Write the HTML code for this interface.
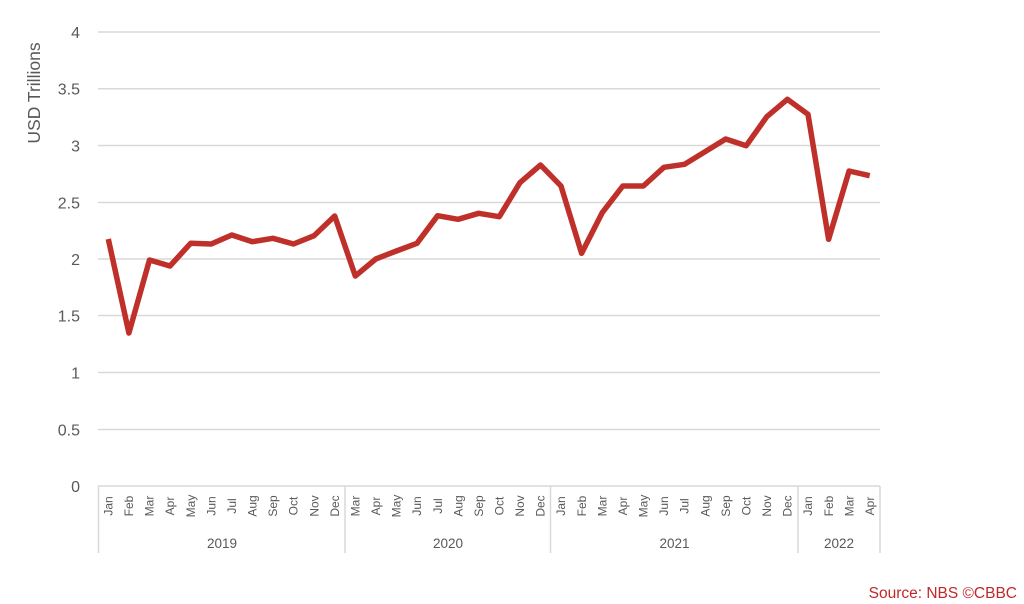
<!DOCTYPE html>
<html><head><meta charset="utf-8"><style>
html,body{margin:0;padding:0;background:#fff;}
svg{display:block;}
text{font-family:"Liberation Sans",sans-serif;}
</style></head><body>
<svg width="1024" height="604" viewBox="0 0 1024 604" xmlns="http://www.w3.org/2000/svg">
<g stroke="#d9d9d9" stroke-width="1.5">
<line x1="98" y1="32" x2="880" y2="32"/>
<line x1="98" y1="88.7" x2="880" y2="88.7"/>
<line x1="98" y1="145.5" x2="880" y2="145.5"/>
<line x1="98" y1="202.5" x2="880" y2="202.5"/>
<line x1="98" y1="259" x2="880" y2="259"/>
<line x1="98" y1="315.5" x2="880" y2="315.5"/>
<line x1="98" y1="372.5" x2="880" y2="372.5"/>
<line x1="98" y1="429.5" x2="880" y2="429.5"/>
<line x1="98" y1="486" x2="880" y2="486"/>
<line x1="98.5" y1="486" x2="98.5" y2="553"/>
<line x1="345" y1="486" x2="345" y2="553"/>
<line x1="550.5" y1="486" x2="550.5" y2="553"/>
<line x1="798" y1="486" x2="798" y2="553"/>
<line x1="880" y1="486" x2="880" y2="553"/>
</g>
<g fill="#595959" font-size="16" text-anchor="end">
<text x="80" y="38">4</text>
<text x="80" y="94.5">3.5</text>
<text x="80" y="151.5">3</text>
<text x="80" y="208.5">2.5</text>
<text x="80" y="265">2</text>
<text x="80" y="321.5">1.5</text>
<text x="80" y="378.5">1</text>
<text x="80" y="435.5">0.5</text>
<text x="80" y="492">0</text>
</g>
<text transform="translate(40,93) rotate(-90)" fill="#595959" font-size="17.5" text-anchor="middle">USD Trillions</text>
<g fill="#595959" font-size="12" text-anchor="middle">
<text transform="translate(108.3,506) rotate(-90)" dy="0.35em">Jan</text>
<text transform="translate(128.9,506) rotate(-90)" dy="0.35em">Feb</text>
<text transform="translate(149.5,506) rotate(-90)" dy="0.35em">Mar</text>
<text transform="translate(170.0,506) rotate(-90)" dy="0.35em">Apr</text>
<text transform="translate(190.6,506) rotate(-90)" dy="0.35em">May</text>
<text transform="translate(211.2,506) rotate(-90)" dy="0.35em">Jun</text>
<text transform="translate(231.8,506) rotate(-90)" dy="0.35em">Jul</text>
<text transform="translate(252.4,506) rotate(-90)" dy="0.35em">Aug</text>
<text transform="translate(272.9,506) rotate(-90)" dy="0.35em">Sep</text>
<text transform="translate(293.5,506) rotate(-90)" dy="0.35em">Oct</text>
<text transform="translate(314.1,506) rotate(-90)" dy="0.35em">Nov</text>
<text transform="translate(334.7,506) rotate(-90)" dy="0.35em">Dec</text>
<text transform="translate(355.3,506) rotate(-90)" dy="0.35em">Mar</text>
<text transform="translate(375.8,506) rotate(-90)" dy="0.35em">Apr</text>
<text transform="translate(396.4,506) rotate(-90)" dy="0.35em">May</text>
<text transform="translate(417.0,506) rotate(-90)" dy="0.35em">Jun</text>
<text transform="translate(437.6,506) rotate(-90)" dy="0.35em">Jul</text>
<text transform="translate(458.1,506) rotate(-90)" dy="0.35em">Aug</text>
<text transform="translate(478.7,506) rotate(-90)" dy="0.35em">Sep</text>
<text transform="translate(499.3,506) rotate(-90)" dy="0.35em">Oct</text>
<text transform="translate(519.9,506) rotate(-90)" dy="0.35em">Nov</text>
<text transform="translate(540.5,506) rotate(-90)" dy="0.35em">Dec</text>
<text transform="translate(561.0,506) rotate(-90)" dy="0.35em">Jan</text>
<text transform="translate(581.6,506) rotate(-90)" dy="0.35em">Feb</text>
<text transform="translate(602.2,506) rotate(-90)" dy="0.35em">Mar</text>
<text transform="translate(622.8,506) rotate(-90)" dy="0.35em">Apr</text>
<text transform="translate(643.4,506) rotate(-90)" dy="0.35em">May</text>
<text transform="translate(663.9,506) rotate(-90)" dy="0.35em">Jun</text>
<text transform="translate(684.5,506) rotate(-90)" dy="0.35em">Jul</text>
<text transform="translate(705.1,506) rotate(-90)" dy="0.35em">Aug</text>
<text transform="translate(725.7,506) rotate(-90)" dy="0.35em">Sep</text>
<text transform="translate(746.2,506) rotate(-90)" dy="0.35em">Oct</text>
<text transform="translate(766.8,506) rotate(-90)" dy="0.35em">Nov</text>
<text transform="translate(787.4,506) rotate(-90)" dy="0.35em">Dec</text>
<text transform="translate(808.0,506) rotate(-90)" dy="0.35em">Jan</text>
<text transform="translate(828.6,506) rotate(-90)" dy="0.35em">Feb</text>
<text transform="translate(849.1,506) rotate(-90)" dy="0.35em">Mar</text>
<text transform="translate(869.7,506) rotate(-90)" dy="0.35em">Apr</text>
</g>
<g fill="#595959" font-size="13.5" text-anchor="middle">
<text x="222" y="548">2019</text>
<text x="448" y="548">2020</text>
<text x="674.5" y="548">2021</text>
<text x="839" y="548">2022</text>
</g>
<polyline fill="none" stroke="#c0302a" stroke-width="5.5" stroke-linejoin="round" stroke-linecap="butt" points="108.3,239 128.9,333 149.5,260 170.0,266 190.6,243.3 211.2,244 231.8,235 252.4,241.7 272.9,238.3 293.5,244 314.1,235.7 334.7,216 355.3,276 375.8,259 396.4,251 417.0,243.3 437.6,215.7 458.1,219.3 478.7,213.3 499.3,216.7 519.9,182.7 540.5,165 561.0,186 581.6,253.3 602.2,212.7 622.8,186 643.4,186 663.9,167.3 684.5,164.3 705.1,151.7 725.7,139 746.2,145.7 766.8,116.7 787.4,99.3 808.0,114.3 828.6,239.3 849.1,171 869.7,175.7"/>
<text x="1017" y="598" fill="#c0282a" font-size="15.5" text-anchor="end">Source: NBS ©CBBC</text>
</svg>
</body></html>
